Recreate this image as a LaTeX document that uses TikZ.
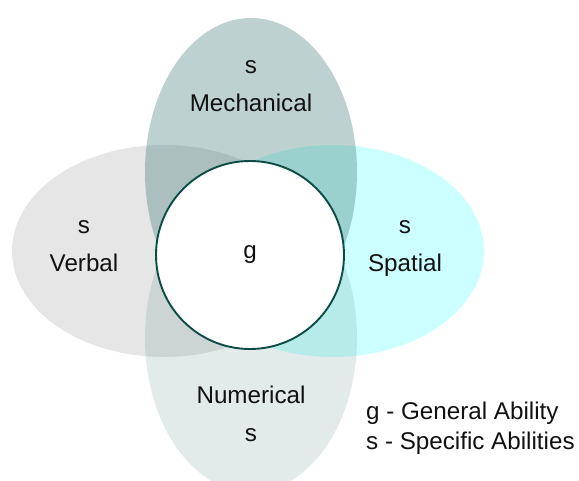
\documentclass[tikz,border=0pt]{standalone}
\usepackage{fontspec}
\setmainfont{Liberation Sans}
\definecolor{verbalc}{HTML}{E6E6E6}
\definecolor{spatialc}{HTML}{CCFFFF}
\definecolor{tealc}{RGB}{49,114,108}
\definecolor{ringc}{HTML}{0B4D45}
\definecolor{txtc}{HTML}{111111}
\begin{document}
\begin{tikzpicture}[x=1pt,y=-1pt,
  lbl/.style={inner sep=0pt, anchor=base, font=\fontsize{24.2}{29}\selectfont, text=txtc}]
\useasboundingbox (0,0) rectangle (579,481);
\begin{scope}
\clip (0,0) rectangle (579,481);
% opaque side ellipses
\fill[verbalc] (164,251) ellipse [x radius=152pt, y radius=106pt];
\fill[spatialc] (333,251) ellipse [x radius=151pt, y radius=106pt];
% translucent vertical ellipses
\fill[tealc, fill opacity=0.32] (251,172) ellipse [x radius=106pt, y radius=154pt];
\fill[tealc, fill opacity=0.14] (251,338) ellipse [x radius=106pt, y radius=154pt];
\end{scope}
% central circle
\node[circle, draw=ringc, line width=1.9pt, fill=white, minimum size=188pt, inner sep=0pt] (gc) at (250,255) {};
% labels
\node[lbl] (gl) at (250,259) {g};
\node[lbl] (ms) at (251,74) {s};
\node[lbl] (mt) at (251,112) {Mechanical};
\node[lbl] (vs) at (84,234) {s};
\node[lbl] (vt) at (84,272) {Verbal};
\node[lbl] (ss) at (405,234) {s};
\node[lbl] (st) at (405,272) {Spatial};
\node[lbl] (nt) at (251,403) {Numerical};
\node[lbl] (ns) at (251,441) {s};
\node[lbl, anchor=base west] (lg1) at (366,420) {g - General Ability};
\node[lbl, anchor=base west] (lg2) at (366,449) {s - Specific Abilities};
\end{tikzpicture}
\end{document}
